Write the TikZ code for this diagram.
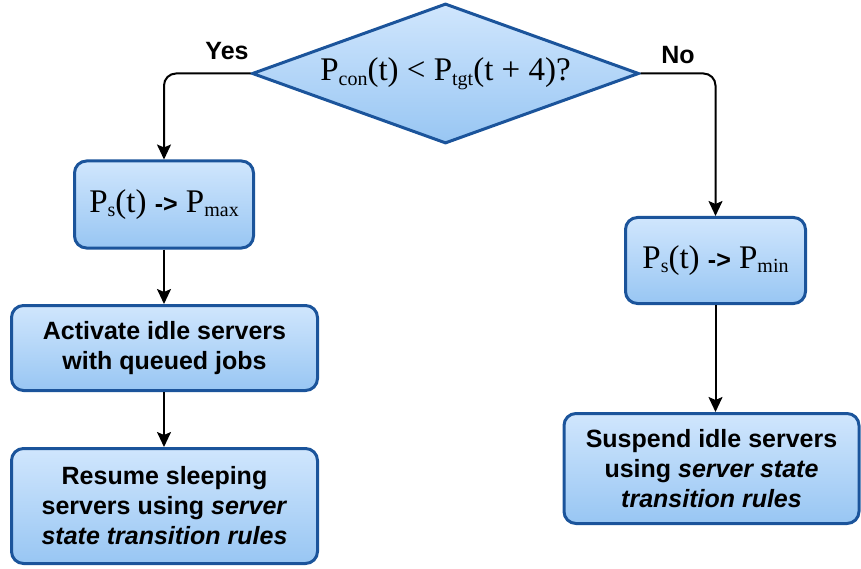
\documentclass[tikz,border=0pt]{standalone}
\usepackage{fontspec}
\setmainfont{Liberation Serif}
\setsansfont{Liberation Sans}
\usetikzlibrary{shapes.geometric,arrows.meta}

\definecolor{edgeblue}{RGB}{27,84,155}
\definecolor{filltop}{RGB}{208,230,253}
\definecolor{fillbot}{RGB}{152,198,243}

% subscript set in smaller serif type
\newcommand{\lowsub}[1]{\raisebox{-4.5pt}{\fontsize{20pt}{20pt}\selectfont #1}}
\newcommand{\bsans}{\sffamily\bfseries\fontsize{25pt}{30pt}\selectfont}
\newcommand{\bigserif}{\rmfamily\mdseries\fontsize{33pt}{34pt}\selectfont}

\tikzset{
  procbox/.style={draw=edgeblue, line width=3pt, rounded corners=12pt,
    top color=filltop, bottom color=fillbot, inner sep=0pt,
    align=center, font=\bsans},
  decision/.style={diamond, draw=edgeblue, line width=3pt,
    top color=filltop, bottom color=fillbot, inner sep=0pt,
    minimum width=387pt, minimum height=140pt, aspect=2.76,
    font=\bigserif},
  flow/.style={line width=2pt, -{Stealth[length=15pt,width=14pt,inset=3pt]}},
  branch/.style={font=\bsans, anchor=base}
}

\begin{document}
\begin{tikzpicture}[x=1pt,y=-1pt]
\useasboundingbox (0,0) rectangle (861,569);

\node[decision] (d) at (445.5,73.5)
  {P\lowsub{con}(t) < P\lowsub{tgt}(t + 4)?};

\node[procbox, minimum width=179pt, minimum height=87pt] (pmax) at (164,204.5)
  {\bigserif P\lowsub{s}(t) {\bsans->} P\lowsub{max}};
\node[procbox, minimum width=306pt, minimum height=85pt] (act) at (164.5,348)
  {Activate idle servers\\with queued jobs};
\node[procbox, minimum width=306pt, minimum height=115pt] (res) at (164.5,506)
  {Resume sleeping\\servers using \textit{server}\\\textit{state transition rules}};

\node[procbox, minimum width=180pt, minimum height=86pt] (pmin) at (715.5,260.5)
  {\bigserif P\lowsub{s}(t) {\bsans->} P\lowsub{min}};
\node[procbox, minimum width=295pt, minimum height=110pt] (sus) at (711.5,468.5)
  {Suspend idle servers\\using \textit{server state}\\\textit{transition rules}};

% branches of the decision
\draw[flow, rounded corners=12pt] (d.west) -| (pmax.north);
\draw[flow, rounded corners=12pt] (d.east) -| (pmin.north);
\node[branch] (yes) at (227,60) {Yes};
\node[branch] (no) at (678,64) {No};

% sequential steps
\draw[flow] (pmax.south) -- (act.north -| pmax.south);
\draw[flow] (act.south -| pmax.south) -- (res.north -| pmax.south);
\draw[flow] (pmin.south) -- (sus.north -| pmin.south);
\end{tikzpicture}
\end{document}
